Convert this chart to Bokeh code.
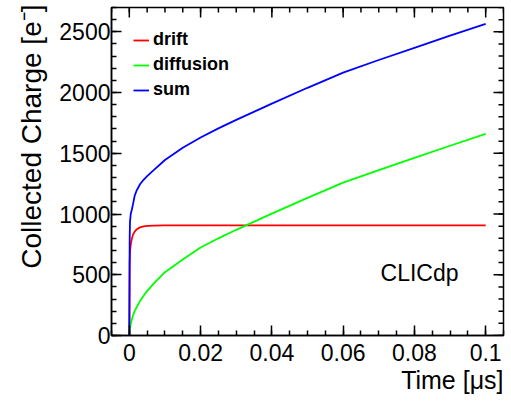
import math
from bokeh.plotting import figure
from bokeh.models import (Range1d, FixedTicker, Legend, LegendItem,
                          Label, Title, CustomJSTickFormatter)
from bokeh.embed import file_html
from bokeh.resources import INLINE

# ---- data ----
time_us = [0, 0.0001, 0.0002, 0.0004, 0.0007, 0.001, 0.0015, 0.002, 0.003, 0.004,
           0.005, 0.007, 0.01, 0.015, 0.02, 0.025, 0.03, 0.04, 0.05, 0.06, 0.07,
           0.08, 0.09, 0.1]
drift = [0, 600, 690, 750, 795, 828, 855, 872, 890, 899, 903, 905, 906, 906, 906,
         906, 906, 906, 906, 906, 906, 906, 906, 906]
diffusion = [0, 40, 60, 95, 130, 163, 200, 230, 283, 327, 365, 433, 521, 626, 724,
             800, 870, 1003, 1133, 1258, 1362, 1462, 1562, 1660]
total = [0, 800, 940, 1000, 1035, 1075, 1150, 1190, 1245, 1282, 1312, 1365, 1445,
         1545, 1630, 1705, 1775, 1909, 2039, 2164, 2268, 2368, 2468, 2566]

x_major = [0, 0.02, 0.04, 0.06, 0.08, 0.1]
x_minor = [round(-0.005 + 0.005 * i, 3) for i in range(23)]
y_major = [0, 500, 1000, 1500, 2000, 2500]
y_minor = [100 * i for i in range(28)]

X_LO, X_HI = -0.005, 0.105
Y_LO, Y_HI = 0, 2700

FONT = "Liberation Sans"

p = figure(width=511, height=403, output_backend="svg", toolbar_location=None,
           x_range=Range1d(X_LO, X_HI), y_range=Range1d(Y_LO, Y_HI),
           min_border_left=111, min_border_right=8, min_border_top=7,
           min_border_bottom=68)
p.grid.visible = False
p.outline_line_color = "black"
p.outline_line_width = 1.5
p.background_fill_color = "white"
p.border_fill_color = "white"

xfmt = CustomJSTickFormatter(code="return String(Math.round(tick*100)/100)")


def style(ax):
    ax.axis_line_color = "black"
    ax.axis_line_width = 1.5
    ax.major_tick_line_width = 1.5
    ax.minor_tick_line_width = 1.5
    ax.major_tick_in = 10
    ax.major_tick_out = 0
    ax.minor_tick_in = 5
    ax.minor_tick_out = 0
    ax.major_label_text_font = FONT
    ax.major_label_text_color = "black"
    ax.major_label_text_font_size = "23px"


xa = p.xaxis[0]
xa.ticker = FixedTicker(ticks=x_major, minor_ticks=x_minor)
xa.formatter = xfmt
style(xa)
xa.major_label_standoff = 8

ya = p.yaxis[0]
ya.ticker = FixedTicker(ticks=y_major, minor_ticks=y_minor)
style(ya)
ya.major_label_standoff = 1

# axis titles, aligned to the far end of each axis (ROOT style)
xt = Title(text="Time [μs]", align="right", text_font=FONT, text_font_size="25px",
           text_font_style="normal", text_color="black", standoff=0, offset=0)
p.add_layout(xt, "below")
yt = Title(text="Collected Charge [e⁻]", align="right", text_font=FONT,
           text_font_size="28px", text_font_style="normal", text_color="black",
           standoff=19, offset=-3)
p.add_layout(yt, "left")

# mirrored inward ticks on the top and right edges of the frame
p.ray(x=x_major, y=Y_HI, length=10, length_units="screen", angle=-math.pi / 2,
      line_color="black", line_width=1.5)
p.ray(x=x_minor, y=Y_HI, length=5, length_units="screen", angle=-math.pi / 2,
      line_color="black", line_width=1.5)
p.ray(x=X_HI, y=y_major, length=10, length_units="screen", angle=math.pi,
      line_color="black", line_width=1.5)
p.ray(x=X_HI, y=y_minor, length=5, length_units="screen", angle=math.pi,
      line_color="black", line_width=1.5)

r_drift = p.line(time_us, drift, line_color="#ff0000", line_width=1.8)
r_diff = p.line(time_us, diffusion, line_color="#00ff00", line_width=1.8)
r_sum = p.line(time_us, total, line_color="#0000ff", line_width=1.8)

legend = Legend(items=[LegendItem(label="drift", renderers=[r_drift]),
                       LegendItem(label="diffusion", renderers=[r_diff]),
                       LegendItem(label="sum", renderers=[r_sum])],
                location=(22, 235), orientation="vertical")
legend.border_line_color = None
legend.background_fill_alpha = 0
legend.padding = 0
legend.margin = 0
legend.spacing = 4
legend.glyph_width = 16
legend.glyph_height = 20
legend.label_height = 20
legend.label_standoff = 4
legend.label_text_font = FONT
legend.label_text_font_size = "18px"
legend.label_text_font_style = "bold"
legend.label_text_color = "black"
legend.label_text_baseline = "middle"
p.add_layout(legend)

p.add_layout(Label(x=0.0705, y=513, text="CLICdp", text_font=FONT,
                   text_font_size="23px", text_color="black",
                   text_baseline="alphabetic", text_align="left"))

open("out.html", "w").write(file_html(p, INLINE))
